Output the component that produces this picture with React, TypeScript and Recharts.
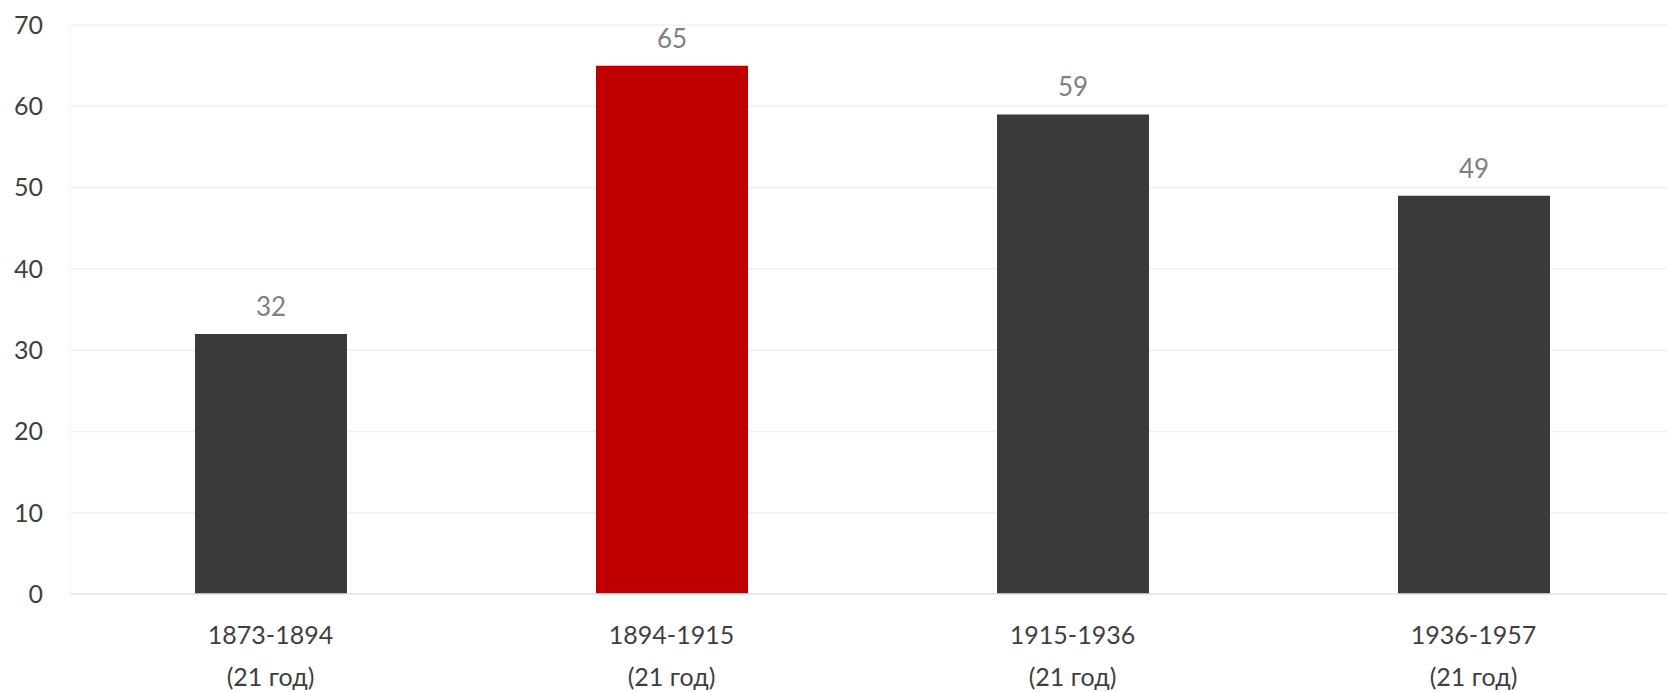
import { BarChart, Bar, XAxis, YAxis, CartesianGrid, LabelList, Cell } from "recharts";

const periods = ["1873-1894", "1894-1915", "1915-1936", "1936-1957"];
const durations = ["(21 год)", "(21 год)", "(21 год)", "(21 год)"];
const values = [32, 65, 59, 49];
const highlighted = [false, true, false, false];
const yTicks = [0, 10, 20, 30, 40, 50, 60, 70];

const chartData = periods.map((p, i) => ({
  period: p,
  duration: durations[i],
  value: values[i],
  hot: highlighted[i],
}));

const FONT = "Lato, 'Open Sans', sans-serif";

const PeriodTick = (props: any) => {
  const { x, y, payload, index } = props;
  return (
    <g transform={`translate(${x},${y})`}>
      <text textAnchor="middle" fontFamily={FONT} fontSize={25} fill="#3f3f3f">
        <tspan x={0} y={42}>{payload.value}</tspan>
        <tspan x={0} y={84}>{durations[index]}</tspan>
      </text>
    </g>
  );
};

export default function App() {
  return (
    <div style={{ position: "absolute", left: 0, top: 0, width: 1667, height: 692, overflow: "hidden", background: "#fff" }}>
      <BarChart
        width={1680}
        height={692}
        data={chartData}
        margin={{ top: 25, right: 6, left: 0, bottom: 0 }}
      >
        <CartesianGrid vertical={false} stroke="#f0f0f0" strokeWidth={1.5} />
        <XAxis
          dataKey="period"
          height={98}
          axisLine={{ stroke: "#e6e6e6", strokeWidth: 1.5 }}
          tickLine={false}
          tick={<PeriodTick />}
          interval={0}
        />
        <YAxis
          width={70}
          domain={[0, 70]}
          ticks={yTicks}
          axisLine={{ stroke: "#f3f3f3" }}
          tickLine={false}
          tickMargin={27}
          tickSize={0}
          tick={{ fontSize: 25, fontFamily: FONT, fill: "#3f3f3f" }}
        />
        <Bar dataKey="value" barSize={152} isAnimationActive={false}>
          {chartData.map((d) => (
            <Cell key={d.period} fill={d.hot ? "#c00000" : "#3a3a3a"} />
          ))}
          <LabelList
            dataKey="value"
            position="top"
            offset={18}
            fontSize={26}
            fontFamily={FONT}
            fill="#7f7f7f"
          />
        </Bar>
      </BarChart>
    </div>
  );
}
